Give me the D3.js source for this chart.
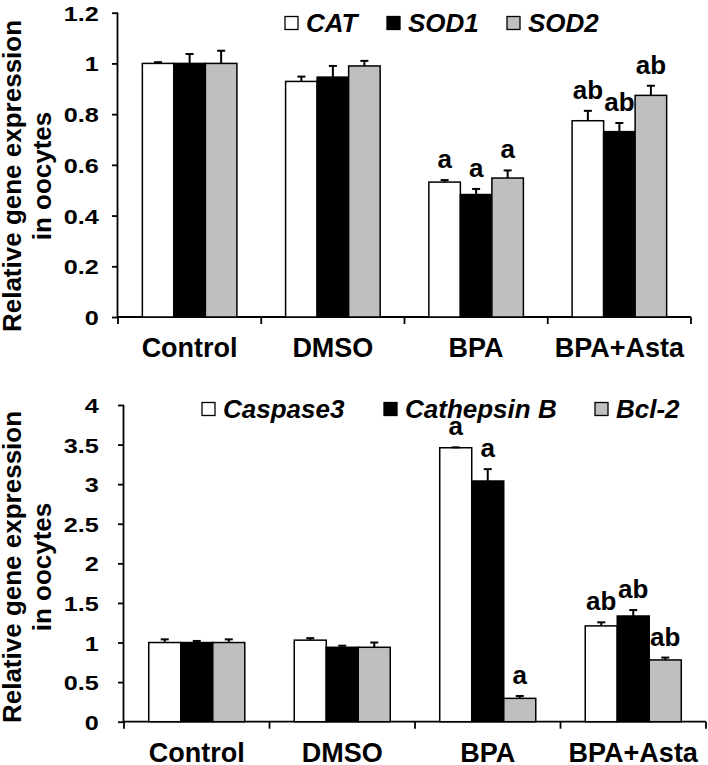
<!DOCTYPE html>
<html lang="en">
<head>
<meta charset="UTF-8">
<title>Relative gene expression in oocytes</title>
<script src="https://cdn.jsdelivr.net/npm/d3@7/dist/d3.min.js"></script>
<style>
    body { margin: 0; background: #ffffff; }
    svg { display: block; font-family: "Liberation Sans", Arial, sans-serif; }
</style>
</head>
<body>
<svg id="mainsvg" width="708" height="765"></svg>
<script>
    // groups on the x axis
    const groups = ['Control', 'DMSO', 'BPA', 'BPA+Asta'];

    // top panel: antioxidant genes
    const topGenes = ['CAT', 'SOD1', 'SOD2'];
    const catMean  = [1.00, 0.929, 0.532, 0.774];
    const catErr   = [0.005, 0.019, 0.008, 0.039];
    const sod1Mean = [1.00, 0.946, 0.483, 0.731];
    const sod1Err  = [0.037, 0.044, 0.022, 0.034];
    const sod2Mean = [1.00, 0.990, 0.548, 0.874];
    const sod2Err  = [0.050, 0.020, 0.030, 0.038];
    const topLetters = ['', '', 'a', 'ab'];
    const topTicks = [0, 0.2, 0.4, 0.6, 0.8, 1, 1.2];

    // bottom panel: apoptosis genes
    const bottomGenes = ['Caspase3', 'Cathepsin B', 'Bcl-2'];
    const casp3Mean = [1.00, 1.03, 3.46, 1.21];
    const casp3Err  = [0.04, 0.025, 0.005, 0.045];
    const ctsbMean  = [1.00, 0.94, 3.04, 1.335];
    const ctsbErr   = [0.02, 0.02, 0.15, 0.075];
    const bcl2Mean  = [1.00, 0.94, 0.295, 0.78];
    const bcl2Err   = [0.04, 0.06, 0.03, 0.03];
    const bottomLetters = ['', '', 'a', 'ab'];
    const bottomTicks = [0, 0.5, 1, 1.5, 2, 2.5, 3, 3.5, 4];

    const fills = ['#ffffff', '#000000', '#bfbfbf'];
    const svg = d3.select('#mainsvg');

    function drawPanel(cfg) {
        const g = svg.append('g');

        const x = d3.scaleBand().domain(groups).range([cfg.left, cfg.right]).paddingInner(0.34).paddingOuter(0.17);
        const xs = d3.scaleBand().domain(cfg.genes).range([0, x.bandwidth()]);
        const y = d3.scaleLinear().domain([0, cfg.max]).range([cfg.bottom, cfg.top]);

        const rows = [];
        cfg.genes.forEach((gene, k) => {
            groups.forEach((grp, i) => {
                rows.push({gene, k, grp, mean: cfg.means[k][i], err: cfg.errs[k][i], letter: cfg.letters[i]});
            });
        });

        // y axis
        const yAxis = g.append('g')
            .attr('transform', `translate(${cfg.left},0)`)
            .call(d3.axisLeft(y).tickValues(cfg.ticks).tickSize(6).tickFormat(d3.format('')));
        yAxis.select('.domain').attr('stroke-width', 1.8).attr('d', `M-0.5,${cfg.top}V${cfg.bottom}`);
        yAxis.selectAll('.tick line').attr('stroke-width', 1.8);
        yAxis.selectAll('.tick text')
            .attr('font-size', 21).attr('font-weight', 'bold').attr('fill', '#000')
            .attr('x', cfg.tickDx).attr('dy', '0.36em')
            .attr('transform', 'scale(1.2,1)');

        // x axis with ticks at the group boundaries
        const bounds = groups.map(d => x(d) - x.step() * x.paddingInner() / 2);
        bounds[0] = cfg.left;
        bounds.push(cfg.right);
        const xAxis = g.append('g').attr('transform', `translate(0,${cfg.bottom})`);
        xAxis.append('line')
            .attr('x1', cfg.left).attr('x2', cfg.right)
            .attr('stroke', '#000').attr('stroke-width', 1.8);
        xAxis.selectAll('line.tick').data(bounds).join('line')
            .attr('class', 'tick')
            .attr('x1', d => d).attr('x2', d => d)
            .attr('y1', 0).attr('y2', 7)
            .attr('stroke', '#000').attr('stroke-width', 1.8);
        xAxis.selectAll('text').data(groups).join('text')
            .attr('x', d => x(d) + x.bandwidth() / 2)
            .attr('y', 40)
            .attr('text-anchor', 'middle')
            .attr('font-size', 27).attr('font-weight', 'bold')
            .text(d => d);

        // bars
        g.selectAll('rect.bar').data(rows).join('rect')
            .attr('class', 'bar')
            .attr('x', d => x(d.grp) + xs(d.gene))
            .attr('y', d => y(d.mean))
            .attr('width', xs.bandwidth())
            .attr('height', d => y(0) - y(d.mean))
            .attr('fill', d => fills[d.k])
            .attr('stroke', '#000').attr('stroke-width', 1.5);

        // error bars
        const cx = d => x(d.grp) + xs(d.gene) + xs.bandwidth() / 2;
        g.selectAll('line.err').data(rows).join('line')
            .attr('class', 'err')
            .attr('x1', cx).attr('x2', cx)
            .attr('y1', d => y(d.mean)).attr('y2', d => y(d.mean + d.err))
            .attr('stroke', '#000').attr('stroke-width', 2);
        g.selectAll('line.cap').data(rows).join('line')
            .attr('class', 'cap')
            .attr('x1', d => cx(d) - 4).attr('x2', d => cx(d) + 4)
            .attr('y1', d => y(d.mean + d.err)).attr('y2', d => y(d.mean + d.err))
            .attr('stroke', '#000').attr('stroke-width', 2);

        // significance letters
        g.selectAll('text.sig').data(rows.filter(d => d.letter)).join('text')
            .attr('class', 'sig')
            .attr('x', cx)
            .attr('y', d => y(d.mean + d.err) - 12)
            .attr('text-anchor', 'middle')
            .attr('font-size', 26).attr('font-weight', 'bold')
            .text(d => d.letter);

        // y title
        const title = g.append('text')
            .attr('transform', `translate(${cfg.titleX},${cfg.titleY}) rotate(-90)`)
            .attr('text-anchor', 'middle')
            .attr('font-size', 26).attr('font-weight', 'bold');
        title.append('tspan').attr('x', 0).attr('dy', 0).text('Relative gene expression');
        title.append('tspan').attr('x', 0).attr('dy', 30).text('in oocytes');

        // legend
        const leg = g.selectAll('g.leg').data(cfg.genes).join('g')
            .attr('class', 'leg')
            .attr('transform', (d, i) => `translate(${cfg.legendX[i]},${cfg.legendY})`);
        leg.append('rect')
            .attr('x', 0).attr('y', -6.5).attr('width', 13).attr('height', 13)
            .attr('fill', (d, i) => fills[i])
            .attr('stroke', '#000').attr('stroke-width', 1.3);
        leg.append('text')
            .attr('x', 21).attr('y', 9)
            .attr('font-size', 26).attr('font-weight', 'bold').attr('font-style', 'italic')
            .text(d => d);
    }

    drawPanel({
        genes: topGenes,
        means: [catMean, sod1Mean, sod2Mean],
        errs: [catErr, sod1Err, sod2Err],
        letters: topLetters,
        ticks: topTicks,
        max: 1.2,
        left: 118, right: 691, top: 12.7, bottom: 317,
        tickDx: -16,
        titleX: 20.5, titleY: 176,
        legendX: [285, 387, 507], legendY: 23
    });

    drawPanel({
        genes: bottomGenes,
        means: [casp3Mean, ctsbMean, bcl2Mean],
        errs: [casp3Err, ctsbErr, bcl2Err],
        letters: bottomLetters,
        ticks: bottomTicks,
        max: 4,
        left: 124, right: 706, top: 405, bottom: 721.7,
        tickDx: -21,
        titleX: 20.5, titleY: 567,
        legendX: [202, 384, 595], legendY: 409
    });
</script>
</body>
</html>
